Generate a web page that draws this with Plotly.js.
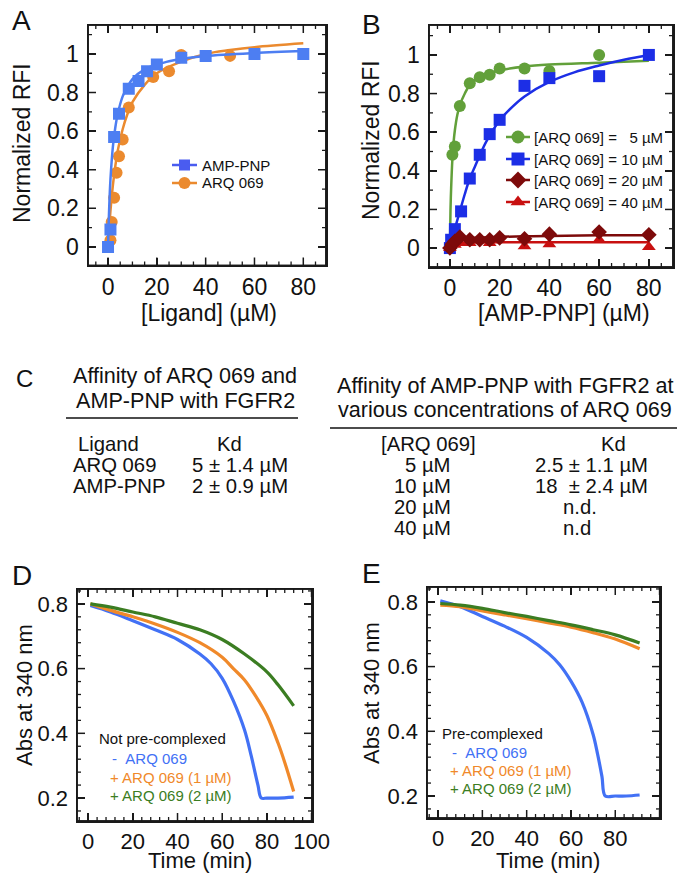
<!DOCTYPE html>
<html><head><meta charset="utf-8">
<script src="https://cdn.plot.ly/plotly-3.0.1.min.js"></script>
<style>html,body{margin:0;padding:0;background:#fff}#chart{width:677px;height:874px}</style>
</head><body><div id="chart"></div>
<script>
// ---------- Panel A ----------
const A_amp_x = [0, 1, 2.5, 4.5, 8.5, 12.5, 16, 20, 30, 40, 60, 80];
const A_amp_y = [0, 0.09, 0.57, 0.69, 0.82, 0.86, 0.91, 0.945, 0.98, 0.99, 1.0, 1.0];
const A_arq_x = [1, 1.5, 2.5, 3.5, 4.5, 6, 8.5, 18.5, 25, 30, 50];
const A_arq_y = [0.035, 0.13, 0.255, 0.385, 0.47, 0.557, 0.723, 0.88, 0.91, 0.995, 0.99];
const A_ampFit_x = [0, 0.5, 1, 2, 3, 4, 6, 8, 10, 15, 20, 30, 40, 60, 80];
const A_ampFit_y = [0, 0.21, 0.35, 0.52, 0.62, 0.69, 0.78, 0.83, 0.87, 0.92, 0.945, 0.975, 0.99, 1.005, 1.015];
const A_arqFit_x = [0, 1, 2, 3, 4, 6, 8, 10, 15, 20, 30, 40, 50, 60, 80];
const A_arqFit_y = [0, 0.187, 0.32, 0.42, 0.5, 0.61, 0.69, 0.75, 0.84, 0.9, 0.96, 1.0, 1.02, 1.035, 1.055];
const A_names = ['AMP-PNP', 'ARQ 069'];

// ---------- Panel B ----------
const B_x5 = [1, 2, 4, 8, 12, 16, 20, 30, 40, 60];
const B_y5 = [0.483, 0.526, 0.736, 0.853, 0.884, 0.897, 0.93, 0.93, 0.917, 1.0];
const B_x10 = [0, 0.5, 2, 4.5, 8, 12, 16, 20, 30, 40, 60, 80];
const B_y10 = [0, 0.043, 0.098, 0.19, 0.36, 0.483, 0.59, 0.664, 0.84, 0.88, 0.89, 1.0];
const B_x20 = [0, 1, 2, 4, 8, 12, 16, 20, 30, 40, 60, 80];
const B_y20 = [0, 0.02, 0.035, 0.057, 0.043, 0.043, 0.043, 0.053, 0.048, 0.072, 0.083, 0.069];
const B_x40 = [0, 2, 4, 8, 16, 30, 40, 60, 80];
const B_y40 = [0, 0.017, 0.026, 0.026, 0.026, 0.009, 0.02, 0.043, 0.005];
const B_fit5_x = [0, 0.25, 0.5, 1, 1.5, 2, 3, 4, 6, 8, 12, 16, 20, 30, 40, 60, 80];
const B_fit5_y = [0, 0.2, 0.31, 0.46, 0.55, 0.61, 0.69, 0.74, 0.8, 0.845, 0.885, 0.905, 0.92, 0.94, 0.95, 0.96, 0.97];
const B_fit10_x = [0, 2, 4, 6, 8, 10, 12, 15, 20, 25, 30, 40, 50, 60, 70, 80];
const B_fit10_y = [0, 0.1, 0.19, 0.28, 0.36, 0.42, 0.48, 0.56, 0.66, 0.73, 0.785, 0.86, 0.91, 0.945, 0.975, 1.0];
const B_fit20_x = [0, 1, 2, 4, 8, 12, 20, 30, 40, 60, 80];
const B_fit20_y = [0, 0.025, 0.04, 0.048, 0.052, 0.055, 0.058, 0.061, 0.063, 0.066, 0.067];
const B_fit40_x = [0, 1, 2, 4, 8, 20, 40, 80];
const B_fit40_y = [0, 0.015, 0.024, 0.028, 0.029, 0.03, 0.03, 0.03];
const B_names = ['[ARQ 069] =\u00a0\u00a0 5 \u00b5M', '[ARQ 069] = 10 \u00b5M', '[ARQ 069] = 20 \u00b5M', '[ARQ 069] = 40 \u00b5M'];

// ---------- Panel D (not pre-complexed) ----------
const D_blue_x = [1, 10, 20, 30, 40, 50, 55, 60, 65, 70, 73, 76, 77.5, 80, 85, 92];
const D_blue_y = [0.795, 0.775, 0.748, 0.72, 0.69, 0.645, 0.615, 0.57, 0.5, 0.41, 0.33, 0.24, 0.2, 0.2, 0.2, 0.203];
const D_orange_x = [1, 10, 20, 30, 40, 50, 60, 65, 70, 75, 80, 85, 88, 92];
const D_orange_y = [0.8, 0.78, 0.76, 0.738, 0.712, 0.68, 0.635, 0.6, 0.565, 0.515, 0.455, 0.37, 0.31, 0.22];
const D_green_x = [1, 10, 20, 30, 40, 50, 60, 70, 80, 85, 92];
const D_green_y = [0.8, 0.79, 0.775, 0.76, 0.74, 0.72, 0.69, 0.645, 0.59, 0.55, 0.485];

// ---------- Panel E (pre-complexed) ----------
const E_blue_x = [1, 10, 20, 30, 40, 50, 55, 60, 65, 70, 72, 74, 75.5, 80, 85, 91];
const E_blue_y = [0.803, 0.785, 0.755, 0.725, 0.69, 0.64, 0.605, 0.555, 0.49, 0.39, 0.33, 0.26, 0.2, 0.2, 0.2, 0.203];
const E_orange_x = [1, 10, 20, 30, 40, 50, 60, 70, 80, 91];
const E_orange_y = [0.79, 0.785, 0.772, 0.76, 0.748, 0.735, 0.722, 0.705, 0.685, 0.655];
const E_green_x = [1, 10, 20, 30, 40, 50, 60, 70, 80, 91];
const E_green_y = [0.795, 0.79, 0.78, 0.767, 0.755, 0.742, 0.729, 0.714, 0.698, 0.673];
const DE_labels = ['-\u00a0\u00a0ARQ 069', '+ ARQ 069 (1 \u00b5M)', '+ ARQ 069 (2 \u00b5M)'];

// ---------- Panel C table ----------
const C_left_head = ['Affinity of ARQ 069 and', 'AMP-PNP with FGFR2'];
const C_left_cols = ['Ligand', 'Kd'];
const C_left_ligand = ['ARQ 069', 'AMP-PNP'];
const C_left_kd = ['5 \u00b1 1.4 \u00b5M', '2 \u00b1 0.9 \u00b5M'];
const C_right_head = ['Affinity of AMP-PNP with FGFR2 at', 'various concentrations of ARQ 069'];
const C_right_cols = ['[ARQ 069]', 'Kd'];
const C_right_conc = ['5 \u00b5M', '10 \u00b5M', '20 \u00b5M', '40 \u00b5M'];
const C_right_kd = ['2.5 \u00b1 1.1 \u00b5M', '18 \u00a0\u00b1 2.4 \u00b5M', 'n.d.', 'n.d'];

// ---------- styling ----------
const FONT = 'Liberation Sans, Arial, Helvetica, sans-serif';
const W = 677, H = 874;
const px = v => v / W;
const py = v => 1 - v / H;

const cvs = document.createElement('canvas').getContext('2d');
function textW(t, fam, size) { cvs.font = size + 'px ' + fam; return cvs.measureText(t).width; }
const NARROW = "'Liberation Sans Narrow', 'Arial Narrow', 'Liberation Sans', Arial, sans-serif";
const headW = textW(C_right_head[0], NARROW, 100);
const headSize = Math.min(26, Math.round(338 / headW * 100 * 10) / 10);
const rowSize = Math.round(headSize * 0.94 * 10) / 10;
const TFONT = NARROW;

const cA_blue = '#4d7ef2', cA_orange = '#eb8a2e', cA_legBlue = '#4a5cf0';
const cB_green = '#62a03a', cB_blue = '#1c2ee6', cB_dred = '#7d0a0a', cB_red = '#c81010';
const cD_blue = '#4271f5', cD_orange = '#f0892a', cD_green = '#3b7d22';
const FRAME = '#1a1a1a';

// panel geometry (pixels): [left, right, top, bottom]
const boxA = [88, 326, 25, 265.5], boxB = [429, 673, 25, 267], boxD = [77, 312, 589, 821], boxE = [427, 660, 587, 818];
// axis settings: range, major, minor
const axA = {xr: [-8.2, 89.3], xM: 20, xm: 5, yr: [-0.096, 1.15], yM: 0.2, ym: 0.1};
const axB = {xr: [-8.4, 89.7], xM: 20, xm: 5, yr: [-0.098, 1.155], yM: 0.2, ym: 0.1};
const axD = {xr: [-5, 100.2], xM: 20, xm: 4, yr: [0.129, 0.846], yM: 0.2, ym: 0.04};
const axE = {xr: [-5, 100.2], xM: 20, xm: 4, yr: [0.132, 0.846], yM: 0.2, ym: 0.04};

function xaxisObj(box, ax, anchor, fs) {
  return {domain: [px(box[0]), px(box[1])], range: ax.xr, anchor: anchor,
    showline: true, mirror: 'allticks', linecolor: FRAME, linewidth: 1.5,
    ticks: 'inside', ticklen: 8, tickwidth: 1.4, tickcolor: FRAME,
    tick0: 0, dtick: ax.xM, showgrid: false, zeroline: false, tickfont: {family: FONT, size: fs, color: '#111'}};
}
function yaxisObj(box, ax, anchor, fs) {
  return {domain: [py(box[3]), py(box[2])], range: ax.yr, anchor: anchor,
    showline: true, mirror: 'allticks', linecolor: FRAME, linewidth: 1.5,
    ticks: 'inside', ticklen: 8, tickwidth: 1.4, tickcolor: FRAME,
    tick0: 0, dtick: ax.yM, showgrid: false, zeroline: false, tickfont: {family: FONT, size: fs, color: '#111'},
    ticklabelstandoff: 3};
}

const traces = [];
const shapes = [];

// frame + inside ticks on all four sides, drawn in each panel's own axis coordinates
function frameTraces(box, ax, xid, yid) {
  const [l, r, t, b] = box;
  const [x0, x1] = ax.xr, [y0, y1] = ax.yr;
  const ux = (x1 - x0) / (r - l), uy = (y1 - y0) / (b - t);
  const fx = [x0, x1, x1, x0, x0], fy = [y0, y0, y1, y1, y0];
  const maj = {x: [], y: []}, mnr = {x: [], y: []};
  const kx0 = Math.ceil(x0 / ax.xm - 1e-9), kx1 = Math.floor(x1 / ax.xm + 1e-9);
  for (let k = kx0; k <= kx1; k++) {
    const v = k * ax.xm;
    const isMaj = Math.abs(v / ax.xM - Math.round(v / ax.xM)) < 1e-6;
    const o = isMaj ? maj : mnr, L = (isMaj ? 8 : 4) * uy;
    o.x.push(v, v, null, v, v, null);
    o.y.push(y0, y0 + L, null, y1, y1 - L, null);
  }
  const ky0 = Math.ceil(y0 / ax.ym - 1e-9), ky1 = Math.floor(y1 / ax.ym + 1e-9);
  for (let k = ky0; k <= ky1; k++) {
    const v = Math.round(k * ax.ym * 1e6) / 1e6;
    const isMaj = Math.abs(v / ax.yM - Math.round(v / ax.yM)) < 1e-6;
    const o = isMaj ? maj : mnr, L = (isMaj ? 8 : 4) * ux;
    o.x.push(x0, x0 + L, null, x1, x1 - L, null);
    o.y.push(v, v, null, v, v, null);
  }
  const base = {xaxis: xid, yaxis: yid, mode: 'lines', showlegend: false, hoverinfo: 'skip', cliponaxis: false, connectgaps: false};
  traces.push(Object.assign({x: mnr.x, y: mnr.y, line: {color: FRAME, width: 1.3}}, base));
  traces.push(Object.assign({x: maj.x, y: maj.y, line: {color: FRAME, width: 1.5}}, base));
  traces.push(Object.assign({x: fx, y: fy, line: {color: FRAME, width: 1.7}}, base));
  // backup frame outline in paper coordinates
  shapes.push({type: 'rect', xref: 'paper', yref: 'paper', x0: px(l), x1: px(r), y0: py(b), y1: py(t),
    line: {color: FRAME, width: 1.5}, fillcolor: 'rgba(0,0,0,0)', layer: 'above'});
}

// legend key (short line with a symbol) placed in the panel's own axis coordinates
const legendTexts = [];
function legendKey(box, ax, xid, yid, xl, xr, ym, color, symbol, msize, label, textX, fs) {
  const [l, r, t, b] = box;
  const X = p => ax.xr[0] + (p - l) / (r - l) * (ax.xr[1] - ax.xr[0]);
  const Y = p => ax.yr[0] + (b - p) / (b - t) * (ax.yr[1] - ax.yr[0]);
  traces.push({x: [X(xl), X(xr)], y: [Y(ym), Y(ym)], xaxis: xid, yaxis: yid, mode: 'lines', line: {color: color, width: 2.5}, showlegend: false, hoverinfo: 'skip'});
  traces.push({x: [X((xl + xr) / 2)], y: [Y(ym)], xaxis: xid, yaxis: yid, mode: 'markers', marker: {symbol: symbol, size: msize, color: color}, showlegend: false, hoverinfo: 'skip'});
  legendTexts.push([label, textX, ym, fs]);
}

// Panel A
frameTraces(boxA, axA, 'x', 'y');
traces.push({x: A_arqFit_x, y: A_arqFit_y, xaxis: 'x', yaxis: 'y', mode: 'lines', line: {color: cA_orange, width: 2.5, shape: 'spline'}, showlegend: false, hoverinfo: 'skip'});
traces.push({x: A_arq_x, y: A_arq_y, xaxis: 'x', yaxis: 'y', mode: 'markers', marker: {symbol: 'circle', size: 12, color: cA_orange}, showlegend: false});
traces.push({x: A_ampFit_x, y: A_ampFit_y, xaxis: 'x', yaxis: 'y', mode: 'lines', line: {color: cA_blue, width: 2.5, shape: 'spline'}, showlegend: false, hoverinfo: 'skip'});
traces.push({x: A_amp_x, y: A_amp_y, xaxis: 'x', yaxis: 'y', mode: 'markers', marker: {symbol: 'square', size: 12, color: cA_blue}, showlegend: false});
legendKey(boxA, axA, 'x', 'y', 172, 197, 165, cA_legBlue, 'square', 11, A_names[0], 200, 15);
legendKey(boxA, axA, 'x', 'y', 172, 197, 183, cA_orange, 'circle', 12, A_names[1], 200, 15);

// Panel B
frameTraces(boxB, axB, 'x2', 'y2');
const Bsets = [
  [B_fit5_x, B_fit5_y, B_x5, B_y5, cB_green, 'circle'],
  [B_fit10_x, B_fit10_y, B_x10, B_y10, cB_blue, 'square'],
  [B_fit40_x, B_fit40_y, B_x40, B_y40, cB_red, 'triangle-up'],
  [B_fit20_x, B_fit20_y, B_x20, B_y20, cB_dred, 'diamond']
];
Bsets.forEach(s => {
  traces.push({x: s[0], y: s[1], xaxis: 'x2', yaxis: 'y2', mode: 'lines', line: {color: s[4], width: 2.5, shape: 'spline'}, showlegend: false, hoverinfo: 'skip'});
  traces.push({x: s[2], y: s[3], xaxis: 'x2', yaxis: 'y2', mode: 'markers', marker: {symbol: s[5], size: 12, color: s[4]}, showlegend: false});
});
[[cB_green, 'circle', 137], [cB_blue, 'square', 159], [cB_dred, 'diamond', 180], [cB_red, 'triangle-up', 202]].forEach((s, i) => {
  legendKey(boxB, axB, 'x2', 'y2', 506, 530, s[2], s[0], s[1], 13, B_names[i], 532, 15);
});

// Panel D
frameTraces(boxD, axD, 'x3', 'y3');
[[D_blue_x, D_blue_y, cD_blue], [D_orange_x, D_orange_y, cD_orange], [D_green_x, D_green_y, cD_green]].forEach(s => {
  traces.push({x: s[0], y: s[1], xaxis: 'x3', yaxis: 'y3', mode: 'lines', line: {color: s[2], width: 3.2, shape: 'spline'}, showlegend: false});
});
// Panel E
frameTraces(boxE, axE, 'x4', 'y4');
[[E_blue_x, E_blue_y, cD_blue], [E_orange_x, E_orange_y, cD_orange], [E_green_x, E_green_y, cD_green]].forEach(s => {
  traces.push({x: s[0], y: s[1], xaxis: 'x4', yaxis: 'y4', mode: 'lines', line: {color: s[2], width: 3.2, shape: 'spline'}, showlegend: false});
});

const layout = {
  width: W, height: H,
  margin: {l: 0, r: 0, t: 0, b: 0},
  paper_bgcolor: '#fff', plot_bgcolor: 'rgba(0,0,0,0)',
  font: {family: FONT, color: '#111'},
  showlegend: false,
  xaxis: xaxisObj(boxA, axA, 'y', 23),
  yaxis: yaxisObj(boxA, axA, 'x', 23),
  xaxis2: xaxisObj(boxB, axB, 'y2', 23),
  yaxis2: yaxisObj(boxB, axB, 'x2', 23),
  xaxis3: xaxisObj(boxD, axD, 'y3', 22),
  yaxis3: yaxisObj(boxD, axD, 'x3', 22),
  xaxis4: xaxisObj(boxE, axE, 'y4', 22),
  yaxis4: yaxisObj(boxE, axE, 'x4', 22),
  annotations: [],
  shapes: shapes
};

const ann = layout.annotations;
function txt(text, x, y, size, opts, fam) {
  ann.push(Object.assign({text: text, x: px(x), y: py(y), xref: 'paper', yref: 'paper', showarrow: false,
    xanchor: 'center', yanchor: 'middle', font: {family: fam || FONT, size: size, color: '#111'}}, opts || {}));
}
legendTexts.forEach(r => txt(r[0], r[1], r[2], r[3], {xanchor: 'left'}));

// panel letters
txt('A', 22, 20, 28);
txt('B', 371, 25, 28);
txt('C', 24, 378, 24);
txt('D', 22, 575, 28);
txt('E', 371, 573, 28);

// axis titles
txt('[Ligand] (\u00b5M)', 209, 313, 23);
txt('Normalized RFI', 22, 143, 23, {textangle: -90});
txt('[AMP-PNP] (\u00b5M)', 564, 313, 23);
txt('Normalized RFI', 371, 140, 23, {textangle: -90});
txt('Time (min)', 200, 860, 22);
txt('Abs at 340 nm', 24, 695, 22, {textangle: -90});
txt('Time (min)', 548, 860, 22);
txt('Abs at 340 nm', 371, 693, 22, {textangle: -90});

// D/E legends (text only)
const Dleg = [[97, 738, 'Not pre-complexed', '#111'], [110, 758, DE_labels[0], cD_blue], [108, 777, DE_labels[1], cD_orange], [108, 795, DE_labels[2], cD_green]];
Dleg.forEach(r => txt(r[2], r[0], r[1], 15, {xanchor: 'left', font: {family: FONT, size: 15, color: r[3]}}));
const Eleg = [[440, 733, 'Pre-complexed', '#111'], [450, 752, DE_labels[0], cD_blue], [448, 770, DE_labels[1], cD_orange], [448, 788, DE_labels[2], cD_green]];
Eleg.forEach(r => txt(r[2], r[0], r[1], 15, {xanchor: 'left', font: {family: FONT, size: 15, color: r[3]}}));

// Table C
const RS = 21;
txt(C_left_head[0], 185, 375, headSize, null, TFONT);
txt(C_left_head[1], 185, 400, headSize, null, TFONT);
shapes.push({type: 'line', xref: 'paper', yref: 'paper', x0: px(66), x1: px(298), y0: py(418), y1: py(418), line: {color: '#111', width: 1.6}});
txt(C_left_cols[0], 76, 444, rowSize, {xanchor: 'left'}, TFONT);
txt(C_left_cols[1], 229, 444, rowSize, null, TFONT);
C_left_ligand.forEach((t, i) => txt(t, 71, 465 + i * RS, rowSize, {xanchor: 'left'}, TFONT));
C_left_kd.forEach((t, i) => txt(t, 190, 465 + i * RS, rowSize, {xanchor: 'left'}, TFONT));

txt(C_right_head[0], 505, 385, headSize, null, TFONT);
txt(C_right_head[1], 505, 410, headSize, null, TFONT);
shapes.push({type: 'line', xref: 'paper', yref: 'paper', x0: px(330), x1: px(677), y0: py(428), y1: py(428), line: {color: '#111', width: 1.6}});
txt(C_right_cols[0], 428, 444, rowSize, null, TFONT);
txt(C_right_cols[1], 613, 444, rowSize, null, TFONT);
C_right_conc.forEach((t, i) => txt(t, 453, 465 + i * RS, rowSize, {xanchor: 'right'}, TFONT));
C_right_kd.forEach((t, i) => txt(t, i < 2 ? 533 : 561, 465 + i * RS, rowSize, {xanchor: 'left'}, TFONT));

Plotly.newPlot('chart', traces, layout, {staticPlot: true, displayModeBar: false});
</script>
</body></html>
